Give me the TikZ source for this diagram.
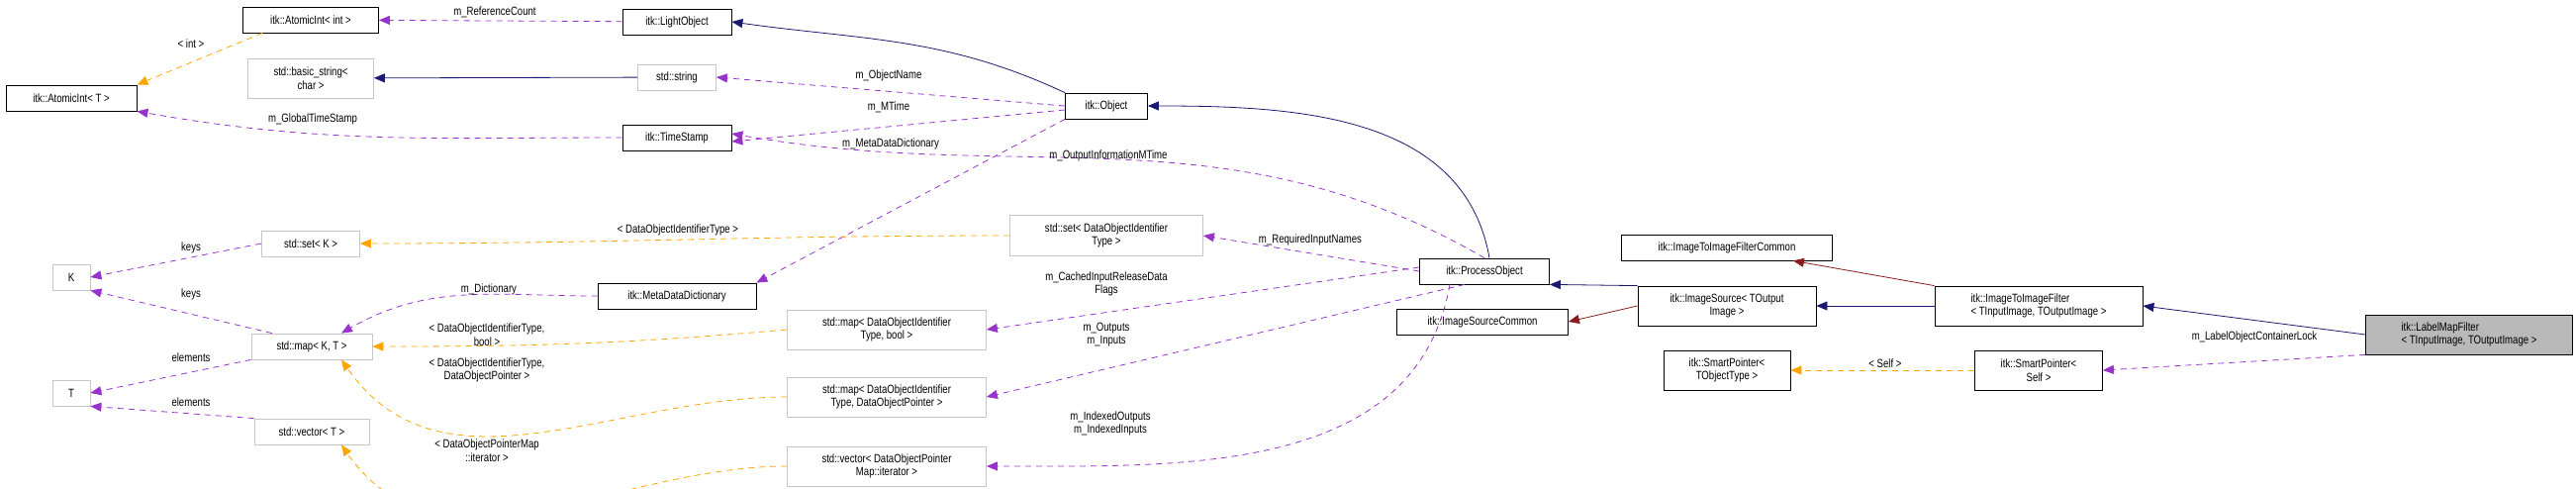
\documentclass[tikz,border=0pt]{standalone}
\usepackage{fontspec}
\setmainfont{Liberation Sans}[FakeStretch=0.8]
\usetikzlibrary{arrows.meta}
\definecolor{purp}{RGB}{153,50,204}
\definecolor{orng}{RGB}{255,165,0}
\definecolor{navy}{RGB}{25,25,112}
\definecolor{dred}{RGB}{139,26,26}
\begin{document}
\begin{tikzpicture}[x=1pt,y=-1pt,
  font=\fontsize{12}{13.5}\selectfont,
  box/.style={draw=black,thick,fill=white,inner sep=2pt,align=center},
  gbox/.style={draw=gray!45,thick,fill=white,inner sep=2pt,align=center},
  tip/.style={-{Triangle[length=11pt,width=9pt]}},
  mem/.style={tip,draw=purp,dashed,dash pattern=on 6pt off 5pt,thick},
  tpl/.style={tip,draw=orng,dashed,dash pattern=on 6pt off 5pt,thick},
  inh/.style={tip,draw=navy,thick},
  inr/.style={tip,draw=dred,thick},
  lab/.style={align=center,inner sep=0pt}]
\useasboundingbox (0,0) rectangle (2603,493);
% nodes
\node[box,minimum width=137,minimum height=26] (ai) at (314,20) {itk::AtomicInt< int >};
\node[box,minimum width=110,minimum height=26] (lo) at (684,22) {itk::LightObject};
\node[gbox,minimum width=127,minimum height=40] (bs) at (314,79) {std::basic\_string<\\char >};
\node[gbox,minimum width=79,minimum height=26] (ss) at (684,78) {std::string};
\node[box,minimum width=132,minimum height=26] (at) at (72,99) {itk::AtomicInt< T >};
\node[box,minimum width=110,minimum height=26] (ts) at (684,139) {itk::TimeStamp};
\node[box,minimum width=83,minimum height=26] (ob) at (1118,107) {itk::Object};
\node[gbox,minimum width=99,minimum height=26] (sk) at (314,246) {std::set< K >};
\node[gbox,minimum width=38,minimum height=26] (K) at (72,280) {K};
\node[box,minimum width=160,minimum height=26] (md) at (684,299) {itk::MetaDataDictionary};
\node[gbox,minimum width=122,minimum height=26] (mkt) at (315,350) {std::map< K, T >};
\node[gbox,minimum width=38,minimum height=26] (T) at (72,397) {T};
\node[gbox,minimum width=116,minimum height=26] (vt) at (315,436) {std::vector< T >};
\node[gbox,minimum width=195,minimum height=41] (sd) at (1118,238) {std::set< DataObjectIdentifier\\Type >};
\node[gbox,minimum width=201,minimum height=40] (mb) at (896,333) {std::map< DataObjectIdentifier\\Type, bool >};
\node[gbox,minimum width=201,minimum height=40] (mp) at (896,401) {std::map< DataObjectIdentifier\\Type, DataObjectPointer >};
\node[gbox,minimum width=201,minimum height=40] (vd) at (896,471) {std::vector< DataObjectPointer\\Map::iterator >};
\node[box,minimum width=131,minimum height=26] (po) at (1500,274) {itk::ProcessObject};
\node[box,minimum width=173,minimum height=26] (isc) at (1498,325) {itk::ImageSourceCommon};
\node[box,minimum width=213,minimum height=26] (itc) at (1745,250) {itk::ImageToImageFilterCommon};
\node[box,minimum width=180,minimum height=40] (is) at (1745,309) {itk::ImageSource< TOutput\\Image >};
\node[box,minimum width=210,minimum height=40,align=left] (itf) at (2060,309) {itk::ImageToImageFilter\\< TInputImage, TOutputImage >};
\node[box,fill=gray!55,minimum width=209,minimum height=40,align=left] (lm) at (2495,338) {itk::LabelMapFilter\\< TInputImage, TOutputImage >};
\node[box,minimum width=128,minimum height=40] (spt) at (1745,374) {itk::SmartPointer<\\TObjectType >};
\node[box,minimum width=129,minimum height=40] (sps) at (2060,374) {itk::SmartPointer<\\Self >};
% edges
\draw[mem] (lo) -- (ai);
\node[lab] at (500,12) {m\_ReferenceCount};
\draw[tpl] (ai.south west)++(20,0) -- (at.north east);
\node[lab] at (193,44) {< int >};
\draw[inh] (ss) -- (bs);
\draw[mem] (ts.west) to[out=180,in=-10] (at.south east);
\node[lab] at (316,120) {m\_GlobalTimeStamp};
\draw[inh] (ob.north west) to[out=155,in=-8] (lo.east);
\draw[mem] (ob.west) -- (ss.east);
\node[lab] at (898,76) {m\_ObjectName};
\draw[mem] (ob.west)++(0,4) -- ([yshift=-4pt]ts.east);
\node[lab] at (898,108) {m\_MTime};
\draw[mem] (ob.south west) -- (md.north east);
\node[lab] at (900,145) {m\_MetaDataDictionary};
\draw[mem] (po.north) to[out=150,in=-10] ([yshift=4pt]ts.east);
\node[lab] at (1120,157) {m\_OutputInformationMTime};
\draw[inh] ([xshift=5pt]po.north) to[out=100,in=0] (ob.east);
\draw[mem] (po.west) -- (sd.east);
\node[lab] at (1324,242) {m\_RequiredInputNames};
\draw[mem] ([yshift=4pt]po.west) -- (mb.east);
\node[lab] at (1118,287) {m\_CachedInputReleaseData\\Flags};
\draw[mem] ([xshift=-20pt]po.south) -- (mp.east);
\node[lab] at (1118,338) {m\_Outputs\\m\_Inputs};
\draw[mem] ([xshift=-35pt]po.south) to[out=-100,in=0] (vd.east);
\node[lab] at (1122,428) {m\_IndexedOutputs\\m\_IndexedInputs};
\draw[tpl] (sd.west) to[out=180,in=0] (sk.east);
\node[lab] at (685,232) {< DataObjectIdentifierType >};
\draw[mem] (sk.west) -- (K.east);
\node[lab] at (193,250) {keys};
\draw[mem] (md.west) to[out=180,in=30] ([xshift=30pt]mkt.north);
\node[lab] at (494,292) {m\_Dictionary};
\draw[mem] ([xshift=-40pt]mkt.north) -- (K.south east);
\node[lab] at (193,297) {keys};
\draw[tpl] (mb.west) to[out=185,in=0] (mkt.east);
\node[lab] at (492,338) {< DataObjectIdentifierType,\\bool >};
\draw[tpl] (mp.west) to[out=180,in=-55] ([xshift=30pt]mkt.south);
\node[lab] at (492,374) {< DataObjectIdentifierType,\\DataObjectPointer >};
\draw[mem] (mkt.south west) -- (T.east);
\node[lab] at (193,361) {elements};
\draw[mem] (vt.north west) -- (T.south east);
\node[lab] at (193,406) {elements};
\draw[tpl] (vd.west) to[out=180,in=-55] ([xshift=30pt]vt.south);
\node[lab] at (492,455) {< DataObjectPointerMap\\::iterator >};
\draw[inh] (is.north west) -- (po.south east);
\draw[inr] (is.west) -- (isc.east);
\draw[inh] (itf) -- (is);
\draw[inr] (itf.north west) -- ([xshift=-40pt]itc.south east);
\draw[inh] (lm.west) -- (itf.east);
\draw[mem] (lm.south west) -- (sps.east);
\node[lab] at (2278,340) {m\_LabelObjectContainerLock};
\draw[tpl] (sps) -- (spt);
\node[lab] at (1905,367) {< Self >};
\end{tikzpicture}
\end{document}
